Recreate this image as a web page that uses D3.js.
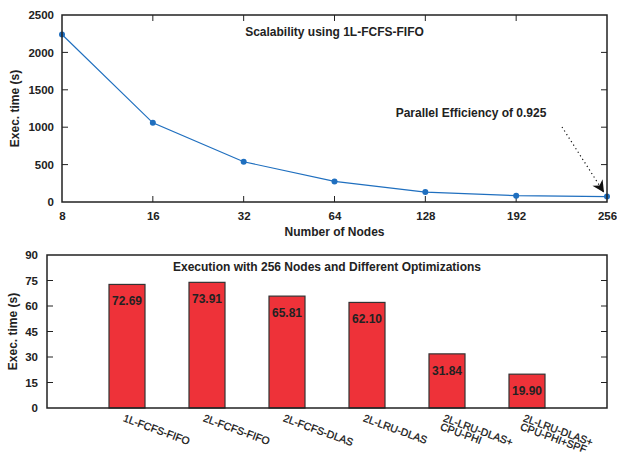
<!DOCTYPE html>
<html>
<head>
<meta charset="utf-8">
<script src="https://cdn.jsdelivr.net/npm/d3@7"></script>
<style>
  body { margin: 0; background: #fff; }
  svg { display: block; font-family: "Liberation Sans", Arial, sans-serif; }
</style>
</head>
<body>
<div id="chart"></div>
<script>
  // top panel: scalability
  var nodes = ["8", "16", "32", "64", "128", "192", "256"]
  var execTimes = [2240, 1058, 538, 275, 133, 84, 72.69]
  var topTicks = [0, 500, 1000, 1500, 2000, 2500]

  // bottom panel: optimizations at 256 nodes
  var configs = [
    ["1L-FCFS-FIFO"],
    ["2L-FCFS-FIFO"],
    ["2L-FCFS-DLAS"],
    ["2L-LRU-DLAS"],
    ["2L-LRU-DLAS+", "CPU-PHI"],
    ["2L-LRU-DLAS+", "CPU-PHI+SPF"]
  ]
  var optTimes = [72.69, 73.91, 65.81, 62.10, 31.84, 19.90]
  var bottomTicks = [0, 15, 30, 45, 60, 75, 90]

  var W = 617, H = 452
  var AX = "#222"
  var svg = d3.select("#chart").append("svg").attr("width", W).attr("height", H)

  function box(g, x0, x1, y0, y1) {
    g.append("rect")
      .attr("x", x0).attr("y", y0)
      .attr("width", x1 - x0).attr("height", y1 - y0)
      .attr("fill", "none").attr("stroke", AX).attr("stroke-width", 1.5)
  }

  // ---------- top chart ----------
  var t = { l: 62, r: 607, t: 15, b: 202 }
  var x1 = d3.scalePoint().domain(nodes).range([t.l, t.r])
  var y1 = d3.scaleLinear().domain([0, 2500]).range([t.b, t.t])
  var topG = svg.append("g")

  var yAx = topG.append("g").attr("transform", "translate(" + t.l + ",0)")
    .call(d3.axisLeft(y1).tickValues(topTicks).tickFormat(d3.format("d")).tickSize(0).tickPadding(8))
  var xAx = topG.append("g").attr("transform", "translate(0," + t.b + ")")
    .call(d3.axisBottom(x1).tickSize(0).tickPadding(10))
  ;[yAx, xAx].forEach(function(a) {
    a.select(".domain").remove()
    a.selectAll("text").attr("font-size", 11.5).attr("font-weight", "bold").attr("fill", AX)
  })

  // inward mirrored ticks
  topTicks.slice(1, -1).forEach(function(v) {
    topG.append("line").attr("x1", t.l).attr("x2", t.l + 6).attr("y1", y1(v)).attr("y2", y1(v)).attr("stroke", AX)
    topG.append("line").attr("x1", t.r - 6).attr("x2", t.r).attr("y1", y1(v)).attr("y2", y1(v)).attr("stroke", AX)
  })
  nodes.slice(1, -1).forEach(function(n) {
    topG.append("line").attr("x1", x1(n)).attr("x2", x1(n)).attr("y1", t.b).attr("y2", t.b - 6).attr("stroke", AX)
    topG.append("line").attr("x1", x1(n)).attr("x2", x1(n)).attr("y1", t.t).attr("y2", t.t + 6).attr("stroke", AX)
  })

  var line = d3.line().x(function(d, i) { return x1(nodes[i]) }).y(function(d) { return y1(d) })
  topG.append("path").datum(execTimes).attr("d", line)
    .attr("fill", "none").attr("stroke", "#1f6fbf").attr("stroke-width", 1.2)
  topG.selectAll("circle").data(execTimes).enter().append("circle")
    .attr("cx", function(d, i) { return x1(nodes[i]) })
    .attr("cy", function(d) { return y1(d) })
    .attr("r", 3).attr("fill", "#1f6fbf")

  box(topG, t.l, t.r, t.t, t.b)

  topG.append("text").attr("x", (t.l + t.r) / 2).attr("y", 36)
    .attr("text-anchor", "middle").attr("font-size", 12).attr("font-weight", "bold").attr("fill", AX)
    .text("Scalability using 1L-FCFS-FIFO")
  topG.append("text").attr("x", 471).attr("y", 117)
    .attr("text-anchor", "middle").attr("font-size", 12).attr("font-weight", "bold").attr("fill", AX)
    .text("Parallel Efficiency of 0.925")
  topG.append("text").attr("x", (t.l + t.r) / 2).attr("y", 236)
    .attr("text-anchor", "middle").attr("font-size", 12).attr("font-weight", "bold").attr("fill", AX)
    .text("Number of Nodes")
  topG.append("text")
    .attr("transform", "translate(19," + (t.t + t.b) / 2 + ") rotate(-90)")
    .attr("text-anchor", "middle").attr("font-size", 12).attr("font-weight", "bold").attr("fill", AX)
    .text("Exec. time (s)")

  // dotted arrow to the 256-node point
  var tipX = x1("256") - 3, tipY = y1(execTimes[6]) - 4
  svg.append("defs").append("marker")
    .attr("id", "head").attr("viewBox", "0 0 10 10").attr("refX", 10).attr("refY", 5)
    .attr("markerWidth", 15).attr("markerHeight", 12).attr("markerUnits", "userSpaceOnUse")
    .attr("orient", "auto")
    .append("path").attr("d", "M0,0 L10,5 L0,10 L3,5 Z").attr("fill", "#111")
  topG.append("line").attr("x1", 562).attr("y1", 127).attr("x2", tipX).attr("y2", tipY)
    .attr("stroke", "#111").attr("stroke-width", 1.2).attr("stroke-dasharray", "1.2,3")
    .attr("marker-end", "url(#head)")

  // ---------- bottom chart ----------
  var b = { l: 47, r: 607, t: 255, b: 408 }
  var x2 = d3.scaleBand().domain(d3.range(configs.length)).range([87, 567])
    .paddingInner(0.55).paddingOuter(0.275)
  var y2 = d3.scaleLinear().domain([0, 90]).range([b.b, b.t])
  var bot = svg.append("g")

  var yAx2 = bot.append("g").attr("transform", "translate(" + b.l + ",0)")
    .call(d3.axisLeft(y2).tickValues(bottomTicks).tickSize(0).tickPadding(9))
  yAx2.select(".domain").remove()
  yAx2.selectAll("text").attr("font-size", 11.5).attr("font-weight", "bold").attr("fill", AX)

  bottomTicks.slice(1, -1).forEach(function(v) {
    bot.append("line").attr("x1", b.l).attr("x2", b.l + 6).attr("y1", y2(v)).attr("y2", y2(v)).attr("stroke", AX)
    bot.append("line").attr("x1", b.r - 6).attr("x2", b.r).attr("y1", y2(v)).attr("y2", y2(v)).attr("stroke", AX)
  })

  bot.selectAll("rect.bar").data(optTimes).enter().append("rect").attr("class", "bar")
    .attr("x", function(d, i) { return x2(i) })
    .attr("y", function(d) { return y2(d) })
    .attr("width", x2.bandwidth())
    .attr("height", function(d) { return y2(0) - y2(d) })
    .attr("fill", "#ee3239").attr("stroke", "#333").attr("stroke-width", 1.2)

  bot.selectAll("text.val").data(optTimes).enter().append("text").attr("class", "val")
    .attr("x", function(d, i) { return x2(i) + x2.bandwidth() / 2 })
    .attr("y", function(d) { return y2(d) + 21 })
    .attr("text-anchor", "middle").attr("font-size", 12).attr("font-weight", "bold").attr("fill", "#222")
    .text(function(d) { return d.toFixed(2) })

  box(bot, b.l, b.r, b.t, b.b)

  var labs = bot.selectAll("text.cat").data(configs).enter().append("text").attr("class", "cat")
    .attr("transform", function(d, i) {
      return "translate(" + (x2(i) + x2.bandwidth() / 2 - 4.5) + ",421) rotate(20)"
    })
    .attr("font-size", 10.5).attr("fill", "#111").attr("stroke", "#111").attr("stroke-width", 0.25)
  labs.selectAll("tspan").data(function(d) { return d }).enter().append("tspan")
    .attr("x", 0).attr("dy", function(d, i) { return i ? "0.85em" : 0 })
    .text(function(d) { return d })

  bot.append("text").attr("x", (b.l + b.r) / 2).attr("y", 271)
    .attr("text-anchor", "middle").attr("font-size", 12).attr("font-weight", "bold").attr("fill", AX)
    .text("Execution with 256 Nodes and Different Optimizations")
  bot.append("text")
    .attr("transform", "translate(17," + (b.t + b.b) / 2 + ") rotate(-90)")
    .attr("text-anchor", "middle").attr("font-size", 12).attr("font-weight", "bold").attr("fill", AX)
    .text("Exec. time (s)")
</script>
</body>
</html>
